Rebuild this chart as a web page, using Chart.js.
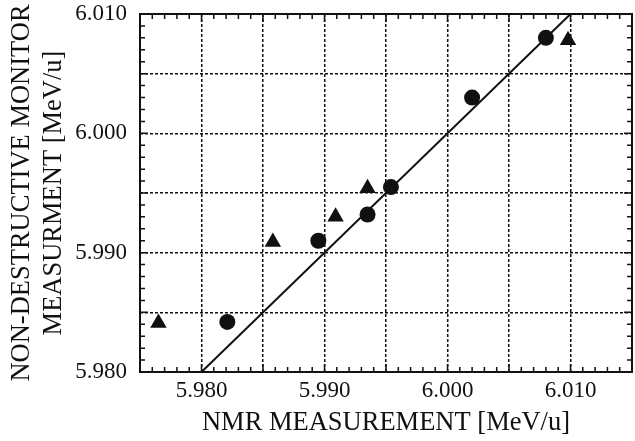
<!DOCTYPE html>
<html>
<head>
<meta charset="utf-8">
<script src="https://cdn.jsdelivr.net/npm/chart.js@4/dist/chart.umd.min.js"></script>
<style>
  html, body { margin: 0; padding: 0; background: #fff; }
  #wrap { width: 635px; height: 441px; }
</style>
</head>
<body>
<div id="wrap"><canvas id="nmrChart" width="635" height="441"></canvas></div>
<script>
// data (MeV/u)
const triangleX = [5.9765, 5.9858, 5.9909, 5.9935, 6.0098];
const triangleY = [5.9841, 5.9909, 5.9930, 5.9954, 6.0078];
const circleX = [5.9821, 5.9895, 5.9935, 5.9954, 6.0020, 6.0080];
const circleY = [5.9842, 5.9910, 5.9932, 5.9955, 6.0030, 6.0080];
const fitX = [5.980, 6.010];
const fitY = [5.980, 6.010];
const xLabels = ["5.980", "5.990", "6.000", "6.010"];
const yLabels = ["5.980", "5.990", "6.000", "6.010"];

const ink = "#111";
const serif = "'Liberation Serif', 'DejaVu Serif', serif";

const toPts = (xs, ys) => xs.map((v, i) => ({ x: v, y: ys[i] }));

// grid every 0.005, labels every 0.010
function onGrid(v) {
    const k = v * 200;
    return Math.abs(k - Math.round(k)) < 1e-6;
}
function labelFor(v, list) {
    const s = v.toFixed(3);
    return list.includes(s) ? s : "";
}

/** inward minor ticks on all four sides */
const innerTicks = {
    id: "innerTicks",
    afterDraw(chart) {
        const { ctx, chartArea: a, scales: { x, y } } = chart;
        ctx.save();
        ctx.strokeStyle = ink;
        ctx.lineWidth = 1.5;
        ctx.beginPath();
        x.ticks.forEach(t => {
            const px = x.getPixelForValue(t.value);
            const len = onGrid(t.value) ? 8 : 5;
            ctx.moveTo(px, a.bottom); ctx.lineTo(px, a.bottom - len);
            ctx.moveTo(px, a.top); ctx.lineTo(px, a.top + len);
        });
        y.ticks.forEach(t => {
            const py = y.getPixelForValue(t.value);
            const len = onGrid(t.value) ? 8 : 5;
            ctx.moveTo(a.left, py); ctx.lineTo(a.left + len, py);
            ctx.moveTo(a.right, py); ctx.lineTo(a.right - len, py);
        });
        ctx.stroke();
        ctx.lineWidth = 2;
        ctx.strokeRect(a.left, a.top, a.right - a.left, a.bottom - a.top);
        ctx.restore();
    }
};

const chart = new Chart(document.getElementById("nmrChart"), {
    type: "scatter",
    data: {
        datasets: [
            {
                type: "line",
                data: toPts(fitX, fitY),
                borderColor: ink,
                borderWidth: 2,
                pointRadius: 0,
                fill: false
            },
            {
                data: toPts(circleX, circleY),
                pointStyle: "circle",
                pointRadius: 8,
                backgroundColor: ink,
                borderColor: ink,
                borderWidth: 0,
                clip: false
            },
            {
                data: toPts(triangleX, triangleY),
                pointStyle: "triangle",
                pointRadius: 9.5,
                backgroundColor: ink,
                borderColor: ink,
                borderWidth: 0,
                clip: false
            }
        ]
    },
    options: {
        responsive: false,
        animation: false,
        layout: { padding: { top: 14, right: 3, left: 0, bottom: 0 } },
        plugins: { legend: { display: false }, tooltip: { enabled: false } },
        scales: {
            x: {
                type: "linear",
                min: 5.975,
                max: 6.015,
                afterFit: s => { s.height = 69; s.paddingLeft = 0; s.paddingRight = 0; },
                grid: {
                    color: c => onGrid(c.tick.value) ? ink : "rgba(0,0,0,0)",
                    lineWidth: 1.5,
                    drawTicks: false
                },
                border: { display: false, dash: [3, 2] },
                ticks: {
                    stepSize: 0.001,
                    autoSkip: false,
                    maxRotation: 0,
                    padding: 5,
                    color: ink,
                    font: { family: serif, size: 23 },
                    callback: v => labelFor(v, xLabels)
                },
                title: {
                    display: true,
                    text: "NMR MEASUREMENT [MeV/u]",
                    color: ink,
                    font: { family: serif, size: 26.5 },
                    padding: { top: 0, bottom: 2 }
                }
            },
            y: {
                type: "linear",
                min: 5.980,
                max: 6.010,
                afterFit: s => { s.width = 140; s.paddingTop = 0; s.paddingBottom = 0; },
                grid: {
                    color: c => onGrid(c.tick.value) ? ink : "rgba(0,0,0,0)",
                    lineWidth: 1.5,
                    drawTicks: false
                },
                border: { display: false, dash: [3, 2] },
                ticks: {
                    stepSize: 0.001,
                    autoSkip: false,
                    padding: 13,
                    color: ink,
                    font: { family: serif, size: 23 },
                    callback: v => labelFor(v, yLabels)
                },
                title: {
                    display: true,
                    text: ["NON-DESTRUCTIVE MONITOR", "MEASURMENT [MeV/u]"],
                    color: ink,
                    font: { family: serif, size: 26.5 },
                    padding: { top: 6, bottom: 0 }
                }
            }
        }
    },
    plugins: [innerTicks]
});

// markers should not shrink the plot box (frame runs almost to the right edge)
chart.data.datasets.forEach((d, i) => {
    chart.getDatasetMeta(i).controller.getMaxOverflow = () => 0;
});
chart.update();
</script>
</body>
</html>
